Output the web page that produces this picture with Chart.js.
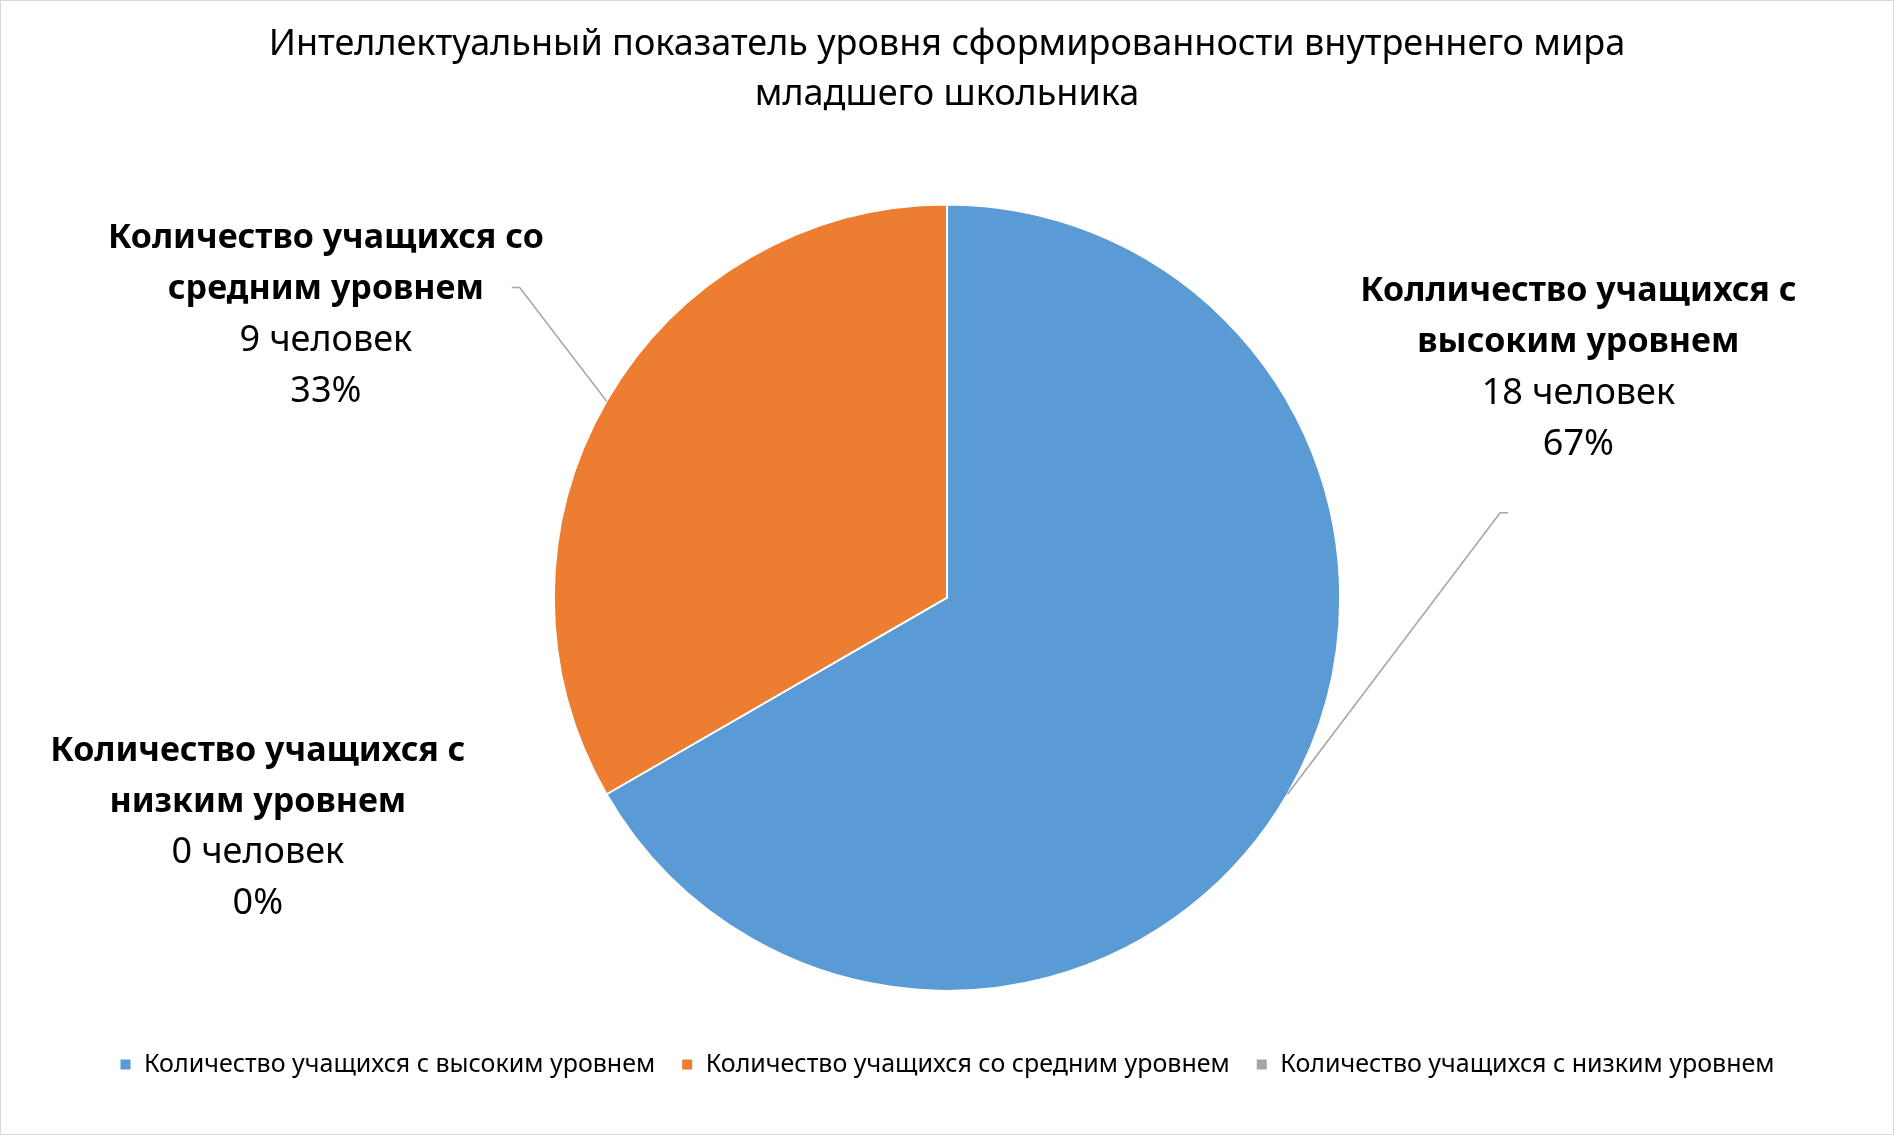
<!DOCTYPE html>
<html>
<head>
<meta charset="utf-8">
<script src="https://cdn.jsdelivr.net/npm/chart.js@4.4.0/dist/chart.umd.min.js"></script>
<style>
  html, body { margin: 0; padding: 0; background: #fff; }
  #wrap { width: 1894px; height: 1135px; position: relative; }
</style>
</head>
<body>
<div id="wrap"><canvas id="pie"></canvas></div>
<script>
// data
const categories = [
  'Количество учащихся с высоким уровнем',
  'Количество учащихся со средним уровнем',
  'Количество учащихся с низким уровнем'
];
const labelTitles = [
  ['Колличество учащихся с', 'высоким уровнем'],
  ['Количество учащихся со', 'средним уровнем'],
  ['Количество учащихся с', 'низким уровнем']
];
const values = [18, 9, 0];
const unit = 'человек';
const titleLines = [
  'Интеллектуальный показатель уровня сформированности внутреннего мира',
  'младшего школьника'
];

const colors = ['#5B9BD5', '#ED7D31', '#A5A5A5'];
const FONT = "'Noto Sans', 'Open Sans', sans-serif";

// label placement, in units of the pie radius, relative to the pie centre
const labelPos = [
  { dx: 1.606, dy: -0.779, tick: [[1.407, -0.216], [1.427, -0.216]] },
  { dx: -1.580, dy: -0.914, tick: [[-1.087, -0.789], [-1.107, -0.789]] },
  { dx: -1.753, dy: 0.390, tick: null }
];

const frame = {
  id: 'frame',
  beforeDraw(chart) {
    const c = chart.ctx;
    c.save();
    c.fillStyle = '#fff';
    c.fillRect(0, 0, chart.width, chart.height);
    c.strokeStyle = '#D9D9D9';
    c.lineWidth = 1;
    c.strokeRect(0.5, 0.5, chart.width - 1, chart.height - 1);
    c.restore();
  }
};

const sliceLabels = {
  id: 'sliceLabels',
  afterDatasetsDraw(chart) {
    const c = chart.ctx;
    const meta = chart.getDatasetMeta(0);
    const total = values.reduce((a, b) => a + b, 0);
    c.save();
    meta.data.forEach((arc, i) => {
      const r = arc.outerRadius;
      const pos = labelPos[i];
      // leader line
      if (pos.tick && values[i] > 0) {
        const mid = (arc.startAngle + arc.endAngle) / 2;
        c.beginPath();
        c.moveTo(arc.x + Math.cos(mid) * r, arc.y + Math.sin(mid) * r);
        c.lineTo(arc.x + pos.tick[0][0] * r, arc.y + pos.tick[0][1] * r);
        c.lineTo(arc.x + pos.tick[1][0] * r, arc.y + pos.tick[1][1] * r);
        c.strokeStyle = '#A6A6A6';
        c.lineWidth = 1.6;
        c.stroke();
      }
      const lx = arc.x + pos.dx * r;
      let ly = arc.y + pos.dy * r;
      const lh = 51;
      c.fillStyle = '#000';
      c.textAlign = 'center';
      c.textBaseline = 'middle';
      c.font = 'bold 34px ' + FONT;
      labelTitles[i].forEach(t => { c.fillText(t, lx, ly); ly += lh; });
      c.font = '36px ' + FONT;
      c.fillText(values[i] + ' ' + unit, lx, ly); ly += lh;
      c.fillText(Math.round(values[i] / total * 100) + '%', lx, ly);
    });
    c.restore();
  }
};

new Chart(document.getElementById('pie'), {
  type: 'pie',
  data: {
    labels: categories,
    datasets: [{
      data: values,
      backgroundColor: colors,
      borderColor: '#fff',
      borderWidth: 2,
      radius: '92%'
    }]
  },
  options: {
    responsive: true,
    maintainAspectRatio: false,
    animation: false,
    layout: { padding: { left: 0, right: 0, top: 0, bottom: 48 } },
    plugins: {
      title: {
        display: true,
        text: titleLines,
        color: '#000',
        font: { family: FONT, size: 36, weight: 'normal', lineHeight: 1.38 },
        padding: { top: 20, bottom: 50 }
      },
      legend: {
        position: 'bottom',
        labels: {
          color: '#000',
          font: { family: FONT, size: 25 },
          boxWidth: 12,
          boxHeight: 12,
          padding: 26
        }
      },
      tooltip: { enabled: false }
    }
  },
  plugins: [frame, sliceLabels]
});
</script>
</body>
</html>
